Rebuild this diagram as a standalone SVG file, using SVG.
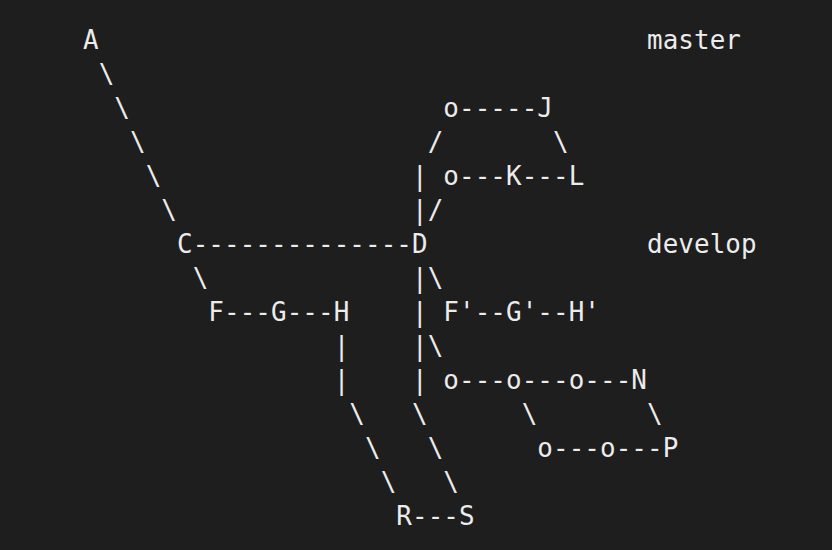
<svg xmlns="http://www.w3.org/2000/svg" width="832" height="550" viewBox="0 0 832 550" xml:space="preserve">
<style>
text{font-family:"DejaVu Sans Mono","Liberation Mono",monospace;font-size:25.9px;letter-spacing:0.08px;fill:#ececec;white-space:pre}
</style>
<rect width="832" height="550" fill="#1e1e1e"/>
<g id="art">
<text x="83" y="49">A                                   master</text>
<text x="83" y="83"> \</text>
<text x="83" y="117">  \                    o-----J</text>
<text x="83" y="151">   \                  /       \</text>
<text x="83" y="185">    \                | o---K---L</text>
<text x="83" y="219">     \               |/</text>
<text x="83" y="253">      C--------------D              develop</text>
<text x="83" y="287">       \             |\</text>
<text x="83" y="321">        F---G---H    | F'--G'--H'</text>
<text x="83" y="355">                |    |\</text>
<text x="83" y="389">                |    | o---o---o---N</text>
<text x="83" y="423">                 \   \      \       \</text>
<text x="83" y="457">                  \   \      o---o---P</text>
<text x="83" y="491">                   \   \</text>
<text x="83" y="525">                    R---S</text>
</g>
</svg>
